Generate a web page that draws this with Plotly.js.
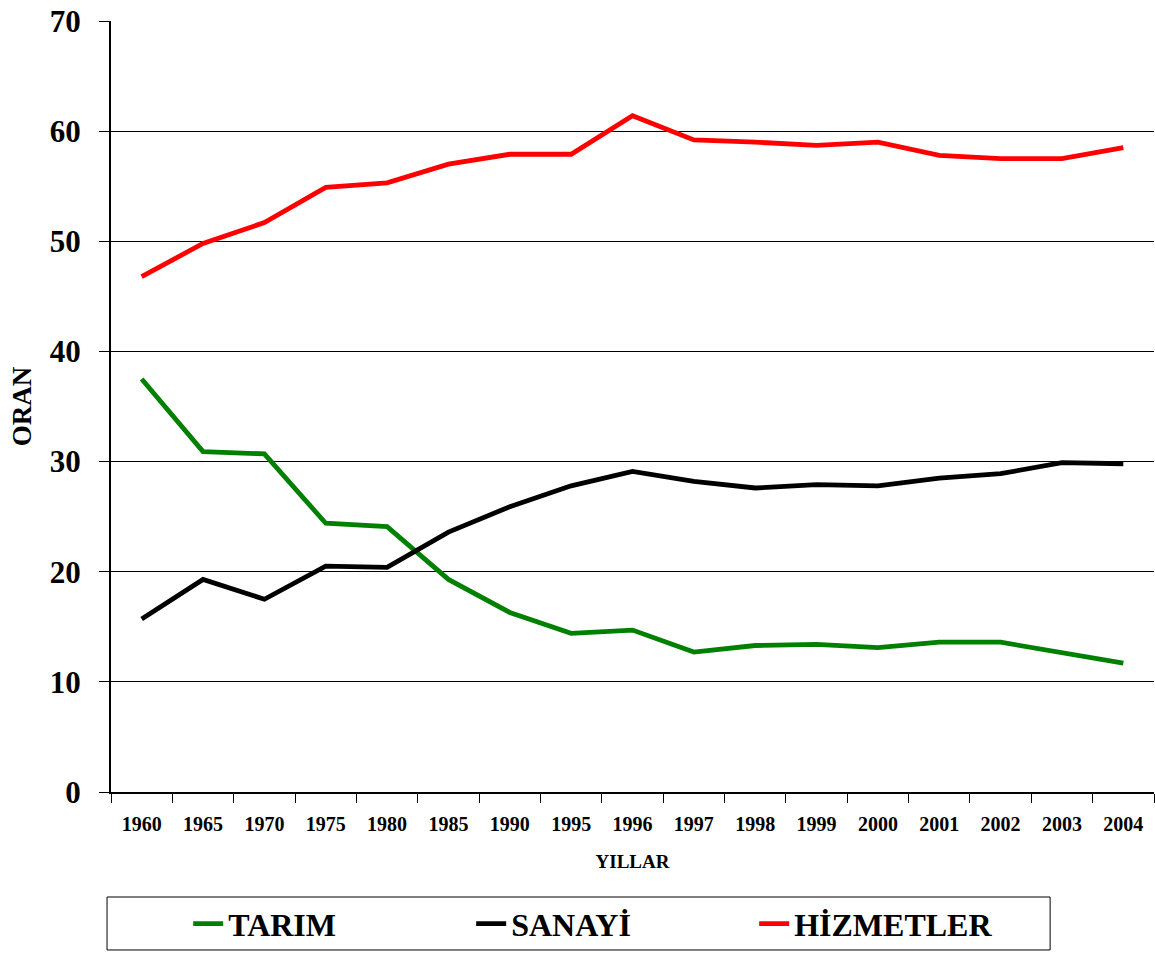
<!DOCTYPE html>
<html>
<head>
<meta charset="utf-8">
<script src="https://cdn.plot.ly/plotly-3.0.1.min.js"></script>
<style>html,body{margin:0;padding:0;background:#fff;}#chart{width:1155px;height:954px;}</style>
</head>
<body>
<div id="chart"></div>
<script>
const years = ["1960","1965","1970","1975","1980","1985","1990","1995","1996","1997","1998","1999","2000","2001","2002","2003","2004"];
const tarim = [37.5,30.9,30.7,24.4,24.1,19.3,16.3,14.4,14.7,12.7,13.3,13.4,13.1,13.6,13.6,12.6,11.7];
const sanayi = [15.7,19.3,17.5,20.5,20.4,23.6,25.9,27.8,29.1,28.2,27.6,27.9,27.8,28.5,28.9,29.9,29.8];
const hizmetler = [46.8,49.8,51.7,54.9,55.3,57.0,57.9,57.9,61.4,59.2,59.0,58.7,59.0,57.8,57.5,57.5,58.5];
const seriesNames = ["TARIM","SANAYİ","HİZMETLER"];

const font = "'Liberation Serif','Times New Roman',serif";

const traces = [
  {x: years, y: tarim, name: seriesNames[0], type: "scatter", mode: "lines",
   line: {color: "#008000", width: 4.8}},
  {x: years, y: sanayi, name: seriesNames[1], type: "scatter", mode: "lines",
   line: {color: "#000000", width: 4.8}},
  {x: years, y: hizmetler, name: seriesNames[2], type: "scatter", mode: "lines",
   line: {color: "#ff0000", width: 4.8}}
];

const layout = {
  width: 1155, height: 954,
  margin: {l: 111, r: 1, t: 21, b: 162},
  paper_bgcolor: "#fff", plot_bgcolor: "#fff",
  font: {family: font, color: "#000"},
  showlegend: true,
  legend: {
    orientation: "h", x: 0.074, xanchor: "left", y: -0.171, yanchor: "middle",
    font: {family: font, size: 32, color: "#000", weight: "bold"},
    entrywidth: 238, entrywidthmode: "pixels",
    bgcolor: "rgba(0,0,0,0)", borderwidth: 0
  },
  xaxis: {
    type: "category", categoryorder: "array", categoryarray: years,
    range: [-0.5, years.length - 0.5],
    tickson: "boundaries", ticks: "outside", ticklen: 9, tickcolor: "#000", tickwidth: 1,
    showline: true, linecolor: "#000", linewidth: 2,
    showgrid: false, zeroline: false,
    tickfont: {family: font, size: 20, color: "#000", weight: "bold"},
    ticklabelstandoff: 13,
    title: {text: "YILLAR", font: {family: font, size: 19, color: "#000", weight: "bold"}, standoff: 21},
    automargin: false, fixedrange: true
  },
  yaxis: {
    range: [0, 70], dtick: 10, tick0: 0,
    ticks: "outside", ticklen: 10, tickcolor: "#000", tickwidth: 1,
    showline: true, linecolor: "#000", linewidth: 2,
    showgrid: true, gridcolor: "#000", gridwidth: 1, zeroline: false,
    tickfont: {family: font, size: 31, color: "#000", weight: "bold"},
    ticklabelstandoff: 12,
    title: {text: "ORAN", font: {family: font, size: 27, color: "#000", weight: "bold"}, standoff: 10},
    automargin: false, fixedrange: true
  },
  shapes: [
    {type: "rect", xref: "paper", yref: "paper", x0: -0.0038, x1: 0.9004, y0: -0.2049, y1: -0.1362,
     line: {color: "#000", width: 1}, fillcolor: "rgba(0,0,0,0)", layer: "below"}
  ]
};

Plotly.newPlot("chart", traces, layout, {displayModeBar: false, staticPlot: true});
</script>
</body>
</html>
